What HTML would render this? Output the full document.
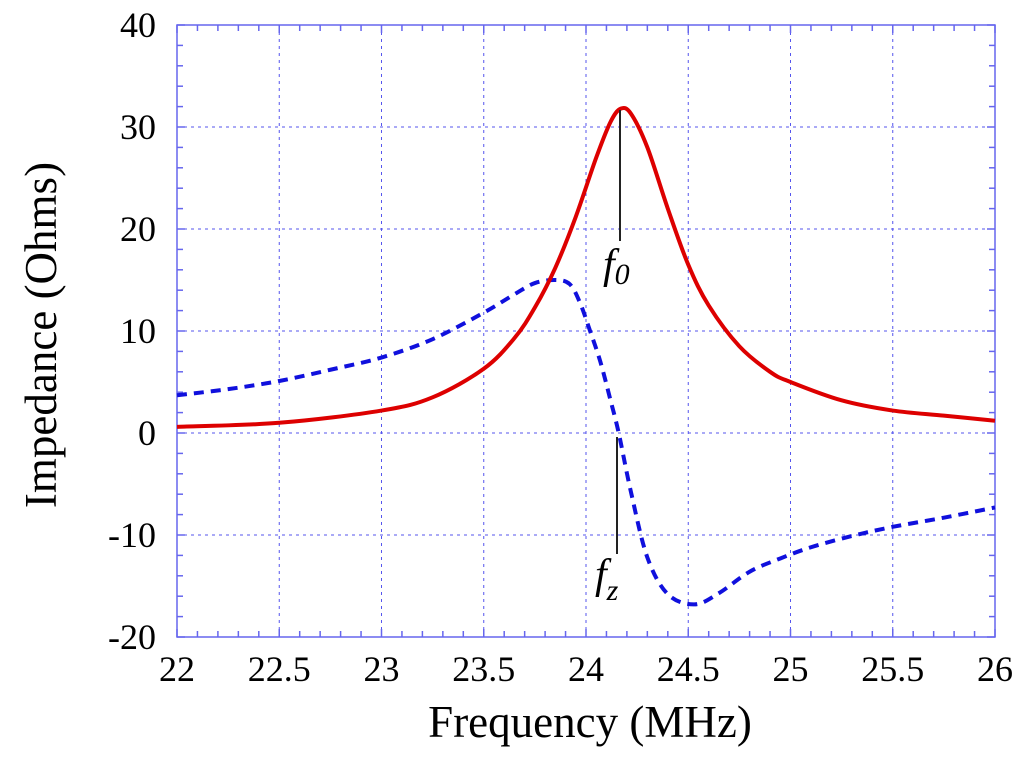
<!DOCTYPE html>
<html><head><meta charset="utf-8"><style>
body{margin:0;background:#fff}
svg text{font-family:"Liberation Serif",serif}
</style></head><body>
<svg id="c" width="1024" height="759" viewBox="0 0 1024 759"></svg>
<script>
const xTicks=[22,22.5,23,23.5,24,24.5,25,25.5,26];
const xTickLabels=["22","22.5","23","23.5","24","24.5","25","25.5","26"];
const yTicks=[-20,-10,0,10,20,30,40];
const yTickLabels=["-20","-10","0","10","20","30","40"];
const redFreq=[22,22.5,23,23.25,23.5,23.65,23.75,23.85,23.95,24.05,24.12,24.17,24.22,24.3,24.4,24.5,24.6,24.75,24.9,25,25.25,25.5,25.75,26];
const redValues=[0.6,1.0,2.2,3.5,6.3,9.3,12.3,16.2,21.2,27,30.5,31.8,31.3,28,22,16.5,12.5,8.5,6,5,3.2,2.2,1.7,1.2];
const blueFreq=[22,22.25,22.5,22.75,23,23.25,23.5,23.65,23.75,23.85,23.92,23.97,24.02,24.07,24.12,24.16,24.22,24.3,24.4,24.53,24.65,24.8,24.95,25.1,25.3,25.5,25.75,26];
const blueValues=[3.7,4.3,5.1,6.2,7.4,9.2,11.8,13.6,14.7,15,14.6,12.8,10,7,3.2,0,-5.8,-12.2,-15.8,-16.8,-15.7,-13.6,-12.3,-11.2,-10.1,-9.2,-8.3,-7.3];
const X0=177,X1=995,Y0=637,Y1=25;
const sx=v=>X0+(v-22)/4*(X1-X0);
const sy=v=>Y0-(v+20)/60*(Y0-Y1);
const NS="http://www.w3.org/2000/svg";
const svg=document.getElementById('c');
function mk(t,a,p){const e=document.createElementNS(NS,t);for(const k in a)e.setAttribute(k,a[k]);(p||svg).appendChild(e);return e;}
xTicks.slice(1,-1).forEach(v=>{const l=mk('line',{x1:sx(v),x2:sx(v),y1:Y1,y2:Y0,stroke:'#5555ee','stroke-width':1,'stroke-dasharray':'3,4'});

});
yTicks.slice(1,-1).forEach(v=>{const l=mk('line',{x1:X0,x2:X1,y1:sy(v),y2:sy(v),stroke:'#5555ee','stroke-width':1,'stroke-dasharray':'3,4'});

});
for(let i=0;i<=40;i++){const x=X0+i*(X1-X0)/40;const L=i%5==0?8:6;
mk('line',{x1:x,x2:x,y1:Y1,y2:Y1+L,stroke:'#6666ee','stroke-width':1.5});mk('line',{x1:x,x2:x,y1:Y0,y2:Y0-L,stroke:'#6666ee','stroke-width':1.5});}
for(let i=0;i<=30;i++){const y=Y0-i*(Y0-Y1)/30;const L=i%5==0?8:6;
mk('line',{x1:X0,x2:X0+L,y1:y,y2:y,stroke:'#6666ee','stroke-width':1.5});mk('line',{x1:X1,x2:X1-L,y1:y,y2:y,stroke:'#6666ee','stroke-width':1.5});}
const fr=mk('rect',{x:X0,y:Y1,width:X1-X0,height:Y0-Y1,fill:'none',stroke:'#6666ee','stroke-width':1.5});


xTicks.forEach((v,i)=>{const t=mk('text',{x:sx(v),y:Y0+44,'text-anchor':'middle','font-size':36});t.textContent=xTickLabels[i];

});
yTicks.forEach((v,i)=>{const t=mk('text',{x:X0-21,y:sy(v)+12,'text-anchor':'end','font-size':36});t.textContent=yTickLabels[i];

});
let t=mk('text',{x:(X0+X1)/2+4,y:737,'text-anchor':'middle','font-size':45});t.textContent='Frequency (MHz)';


t=mk('text',{x:0,y:0,'text-anchor':'middle','font-size':45,transform:'translate(56,335) rotate(-90)'});t.textContent='Impedance (Ohms)';


function path(xs,ys){const p=xs.map((x,i)=>[sx(x),sy(ys[i])]);let d='M'+p[0];
for(let i=0;i<p.length-1;i++){const a=p[Math.max(0,i-1)],b=p[i],c=p[i+1],e=p[Math.min(p.length-1,i+2)];
d+=' C'+(b[0]+(c[0]-a[0])/6)+','+(b[1]+(c[1]-a[1])/6)+' '+(c[0]-(e[0]-b[0])/6)+','+(c[1]-(e[1]-b[1])/6)+' '+c;}return d;}
const bl=mk('path',{d:path(blueFreq,blueValues),fill:'none',stroke:'#1010dd','stroke-width':4,'stroke-dasharray':'10,7'});


const rd=mk('path',{d:path(redFreq,redValues),fill:'none',stroke:'#dd0000','stroke-width':4});


mk('line',{x1:620,x2:620,y1:110,y2:241,stroke:'#222','stroke-width':2});
mk('line',{x1:617,x2:617,y1:437,y2:554,stroke:'#222','stroke-width':2});
t=mk('text',{x:603,y:278,'font-size':42,'font-style':'italic'});t.innerHTML='f<tspan font-size="30" dy="6">0</tspan>';


t=mk('text',{x:595,y:588,'font-size':42,'font-style':'italic'});t.innerHTML='f<tspan font-size="30" dy="12">z</tspan>';


</script>
</body></html>
